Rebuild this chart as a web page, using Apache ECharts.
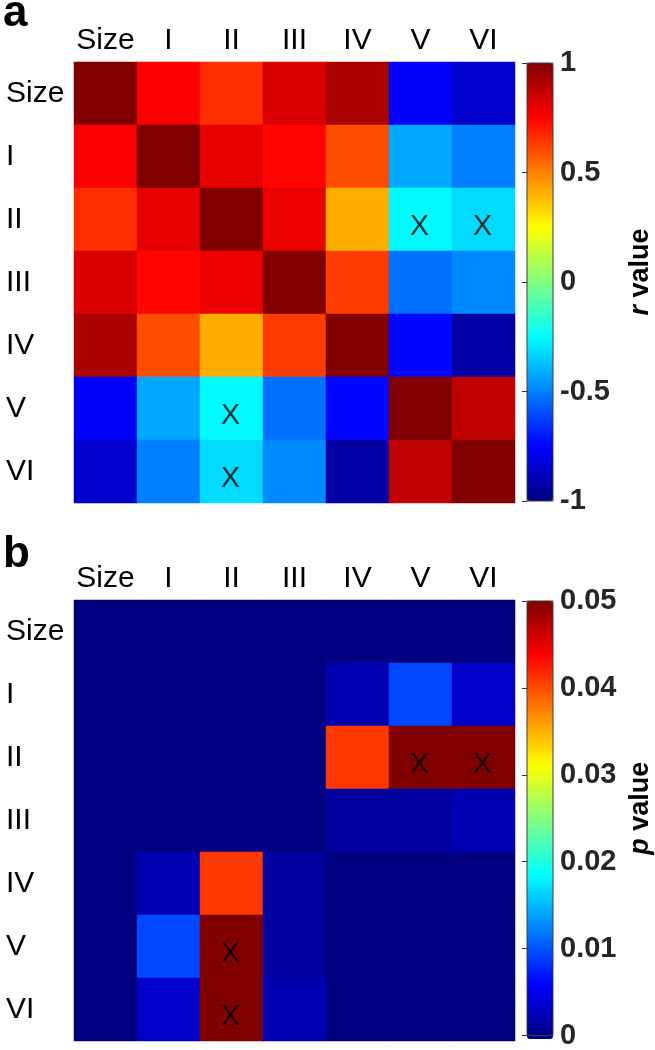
<!DOCTYPE html>
<html>
<head>
<meta charset="utf-8">
<script src="https://cdn.jsdelivr.net/npm/echarts@6/dist/echarts.min.js"></script>
<style>html,body{margin:0;padding:0;background:#fff}#c{width:655px;height:1050px}</style>
</head>
<body>
<div id="c"></div>
<script>
// ---- data ----
const categories = ['Size', 'I', 'II', 'III', 'IV', 'V', 'VI'];

// panel a: correlation coefficients (rows top->bottom, cols left->right)
const rValues = [
  [ 1.00,  0.76,  0.66,  0.82,  0.92, -0.76, -0.85],
  [ 0.76,  1.00,  0.80,  0.74,  0.60, -0.42, -0.50],
  [ 0.66,  0.80,  1.00,  0.79,  0.41, -0.26, -0.32],
  [ 0.82,  0.74,  0.79,  1.00,  0.63, -0.53, -0.48],
  [ 0.92,  0.60,  0.41,  0.63,  1.00, -0.74, -0.93],
  [-0.76, -0.42, -0.26, -0.53, -0.74,  1.00,  0.875],
  [-0.85, -0.50, -0.32, -0.48, -0.93,  0.875, 1.00]
];

// panel b: p values (cells marked X are >= 0.05, shown at the top of the scale)
const pValues = [
  [0, 0,      0,     0,      0,      0,      0     ],
  [0, 0,      0,     0,      0.0025, 0.0097, 0.0037],
  [0, 0,      0,     0,      0.041,  0.05,   0.05  ],
  [0, 0,      0,     0,      0.0015, 0.0015, 0.0025],
  [0, 0.0025, 0.041, 0.0015, 0,      0,      0     ],
  [0, 0.0097, 0.05,  0.0015, 0,      0,      0     ],
  [0, 0.0037, 0.05,  0.0025, 0,      0,      0     ]
];

// cells marked with X: [column, row]
const xMarks = [[5, 2], [6, 2], [2, 5], [2, 6]];

// colour bar scales
const rRange = [-1, 1];
const rStep = 0.5;
const pRange = [0, 0.05];
const pStep = 0.01;

// jet colormap, evenly spaced stops
const JET = ['#000080', '#0000FF', '#0080FF', '#00FFFF', '#80FF80', '#FFFF00', '#FF8000', '#FF0000', '#800000'];

// ---- build ----
function toCells(m) {
  const out = [];
  m.forEach((row, y) => row.forEach((v, x) => out.push([x, y, v])));
  return out;
}
const FONT = '"Liberation Sans", Arial, Helvetica, sans-serif';
const HM = { left: 74, size: 441 };
const CB = { left: 527, width: 26 };
const TOPS = [62, 600];

const grids = [], xAxes = [], yAxes = [], vms = [], series = [];
const panels = [
  { data: rValues, range: rRange, step: rStep, name: '{i|r}{n| value}' },
  { data: pValues, range: pRange, step: pStep, name: '{i|p}{n| value}' }
];
panels.forEach((p, k) => {
  const top = TOPS[k];
  const gHeat = grids.length;
  grids.push({ left: HM.left, top: top, width: HM.size, height: HM.size });
  xAxes.push({
    gridIndex: gHeat, type: 'category', data: categories, position: 'top',
    axisLine: { show: false }, axisTick: { show: false }, splitLine: { show: false },
    axisLabel: { interval: 0, fontSize: 30, color: '#000', margin: 6, fontFamily: FONT }
  });
  yAxes.push({
    gridIndex: gHeat, type: 'category', data: categories, inverse: true,
    axisLine: { show: false }, axisTick: { show: false }, splitLine: { show: false },
    axisLabel: { interval: 0, fontSize: 30, color: '#000', align: 'left', margin: 68, fontFamily: FONT }
  });
  const gBar = grids.length;
  grids.push({ left: CB.left, top: top + 1, width: CB.width, height: HM.size - 3,
    show: true, backgroundColor: 'transparent', borderColor: '#3c3c3c', borderWidth: 1, z: 10 });
  xAxes.push({ gridIndex: gBar, type: 'value', show: false, min: 0, max: 1 });
  yAxes.push({
    gridIndex: gBar, type: 'value', min: p.range[0], max: p.range[1], interval: p.step,
    position: 'right', z: 11,
    axisLine: { show: false }, splitLine: { show: false },
    axisTick: { show: true, inside: true, length: 5, lineStyle: { color: '#333', width: 1 } },
    axisLabel: { fontSize: 29, fontWeight: 'bold', color: '#262626', margin: 7, fontFamily: FONT },
    name: p.name, nameLocation: 'middle', nameGap: 74,
    nameTextStyle: {
      fontFamily: FONT, fontSize: 27, fontWeight: 'bold', color: '#000', padding: [0, 0, 0, 20],
      rich: {
        i: { fontFamily: FONT, fontSize: 27, fontWeight: 'bold', fontStyle: 'italic', color: '#000' },
        n: { fontFamily: FONT, fontSize: 27, fontWeight: 'bold', color: '#000' }
      }
    }
  });
  const sHeat = series.length;
  series.push({
    type: 'heatmap', xAxisIndex: gHeat, yAxisIndex: gHeat,
    data: toCells(p.data), emphasis: { disabled: true }, silent: true
  });
  series.push({
    type: 'scatter', xAxisIndex: gHeat, yAxisIndex: gHeat, data: xMarks,
    symbolSize: 1, itemStyle: { color: 'rgba(0,0,0,0)' }, silent: true, z: 5,
    label: { show: true, position: 'inside', formatter: 'X', fontSize: 29, color: '#000', fontFamily: FONT, offset: [-1, 7] }
  });
  vms.push({
    type: 'continuous', seriesIndex: sHeat, dimension: 2,
    min: p.range[0], max: p.range[1], inRange: { color: JET },
    show: true, calculable: false, hoverLink: false, orient: 'vertical',
    left: CB.left, top: top + 1, itemWidth: CB.width, itemHeight: HM.size - 3, padding: 0,
    text: null, textStyle: { fontSize: 1, color: 'transparent' }
  });
});

const chart = echarts.init(document.getElementById('c'), null, { renderer: 'canvas' });
chart.setOption({
  animation: false,
  backgroundColor: '#fff',
  textStyle: { fontFamily: FONT },
  title: [
    { text: 'a', left: 3, top: -8, padding: 0, textStyle: { fontSize: 44, fontWeight: 'bold', color: '#000', fontFamily: FONT } },
    { text: 'b', left: 3, top: 533, padding: 0, textStyle: { fontSize: 44, fontWeight: 'bold', color: '#000', fontFamily: FONT } }
  ],
  grid: grids,
  xAxis: xAxes,
  yAxis: yAxes,
  visualMap: vms,
  series: series
});
</script>
</body>
</html>
